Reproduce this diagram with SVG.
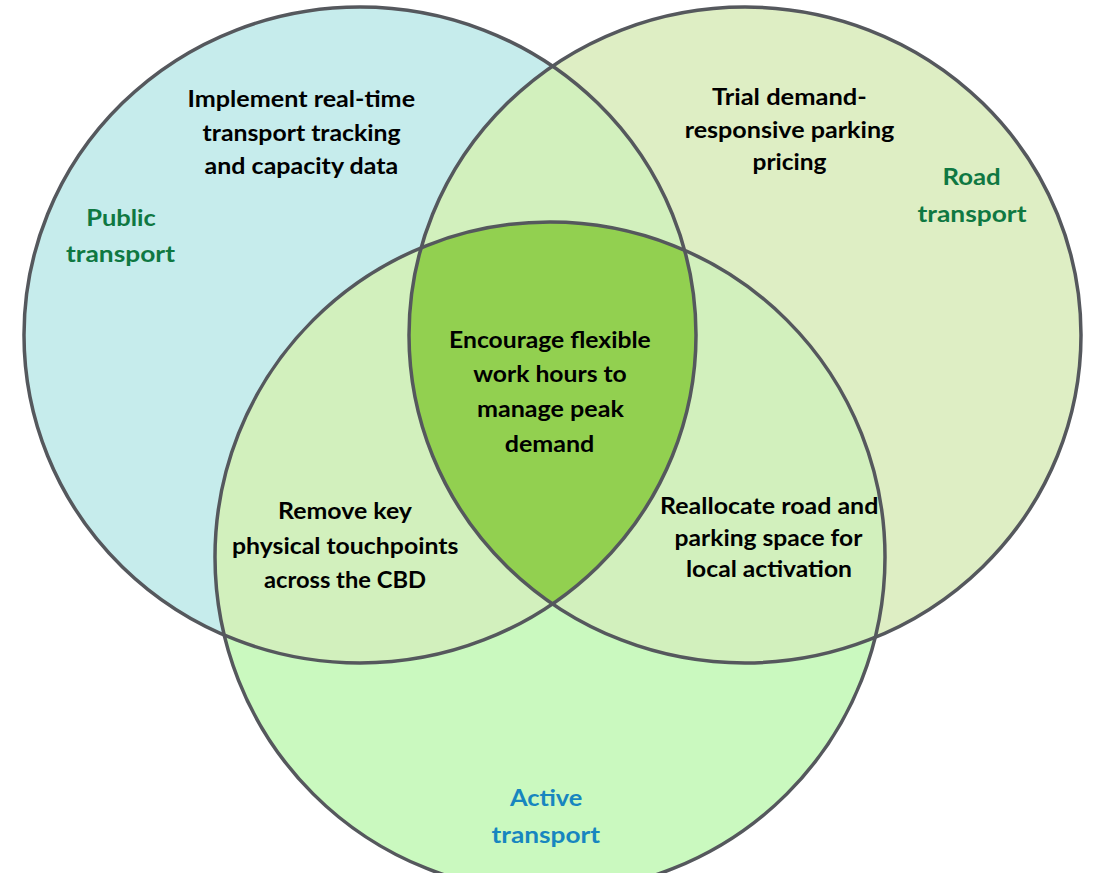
<svg xmlns="http://www.w3.org/2000/svg" width="1094" height="873" viewBox="0 0 1094 873">
<style>
.t{font-family:Lato,"Open Sans","Liberation Sans",sans-serif;font-weight:bold;font-size:23px;fill:#000;text-anchor:middle}
.g{fill:#0f7842}
.b{fill:#1786bf}
.edge{fill:none;stroke:#55585d;stroke-width:3.5}
</style>
<defs>
<ellipse id="pub" cx="360" cy="335" rx="336" ry="328"/>
<ellipse id="road" cx="745" cy="335" rx="336" ry="328"/>
<circle id="act" cx="550" cy="557" r="335"/>
<clipPath id="cPub"><use href="#pub"/></clipPath>
<clipPath id="cRoad"><use href="#road"/></clipPath>
</defs>
<rect width="1094" height="873" fill="#fff"/>
<g id="fills">
<use href="#pub" fill="#c6ecec"/>
<use href="#road" fill="#deeec4"/>
<use href="#act" fill="#caf9bf"/>
<g clip-path="url(#cPub)">
<use href="#road" fill="#d2f0bd"/>
<use href="#act" fill="#d2f0bd"/>
</g>
<g clip-path="url(#cRoad)">
<use href="#act" fill="#d2f0bd"/>
</g>
<g clip-path="url(#cPub)"><g clip-path="url(#cRoad)"><use href="#act" fill="#92d050"/></g></g>
</g>
<g id="connectors"></g>
<g id="public-transport">
<use href="#pub" class="edge"/>
<text class="t g" x="121" y="226" textLength="69.6" lengthAdjust="spacingAndGlyphs">Public</text>
<text class="t g" x="120.5" y="262" textLength="109" lengthAdjust="spacingAndGlyphs">transport</text>
<text class="t" x="301.3" y="107" textLength="227.5" lengthAdjust="spacingAndGlyphs">Implement real-time</text>
<text class="t" x="301.6" y="140.5" textLength="198" lengthAdjust="spacingAndGlyphs">transport tracking</text>
<text class="t" x="301.4" y="174" textLength="193.6" lengthAdjust="spacingAndGlyphs">and capacity data</text>
</g>
<g id="road-transport">
<use href="#road" class="edge"/>
<text class="t g" x="971.6" y="185" textLength="58.2" lengthAdjust="spacingAndGlyphs">Road</text>
<text class="t g" x="972" y="221.5" textLength="109" lengthAdjust="spacingAndGlyphs">transport</text>
<text class="t" x="789.4" y="105" textLength="154.8" lengthAdjust="spacingAndGlyphs">Trial demand-</text>
<text class="t" x="789.5" y="138" textLength="209.7" lengthAdjust="spacingAndGlyphs">responsive parking</text>
<text class="t" x="789.5" y="170" textLength="74" lengthAdjust="spacingAndGlyphs">pricing</text>
</g>
<g id="active-transport">
<use href="#act" class="edge"/>
<text class="t b" x="546.2" y="806" textLength="72.5" lengthAdjust="spacingAndGlyphs">Active</text>
<text class="t b" x="545.8" y="842.5" textLength="108.5" lengthAdjust="spacingAndGlyphs">transport</text>
</g>
<g id="center">
<text class="t" x="549.9" y="347.5" textLength="201.7" lengthAdjust="spacingAndGlyphs">Encourage flexible</text>
<text class="t" x="550" y="382" textLength="153.6" lengthAdjust="spacingAndGlyphs">work hours to</text>
<text class="t" x="550.4" y="417" textLength="147" lengthAdjust="spacingAndGlyphs">manage peak</text>
<text class="t" x="549.5" y="452" textLength="89.6" lengthAdjust="spacingAndGlyphs">demand</text>
</g>
<g id="public-active">
<text class="t" x="345" y="519" textLength="134" lengthAdjust="spacingAndGlyphs">Remove key</text>
<text class="t" x="345.2" y="554" textLength="226.4" lengthAdjust="spacingAndGlyphs">physical touchpoints</text>
<text class="t" x="345" y="588" textLength="162" lengthAdjust="spacingAndGlyphs">across the CBD</text>
</g>
<g id="road-active">
<text class="t" x="769.2" y="514" textLength="218.4" lengthAdjust="spacingAndGlyphs">Reallocate road and</text>
<text class="t" x="768.5" y="546" textLength="187.8" lengthAdjust="spacingAndGlyphs">parking space for</text>
<text class="t" x="769" y="577" textLength="166" lengthAdjust="spacingAndGlyphs">local activation</text>
</g>
</svg>
